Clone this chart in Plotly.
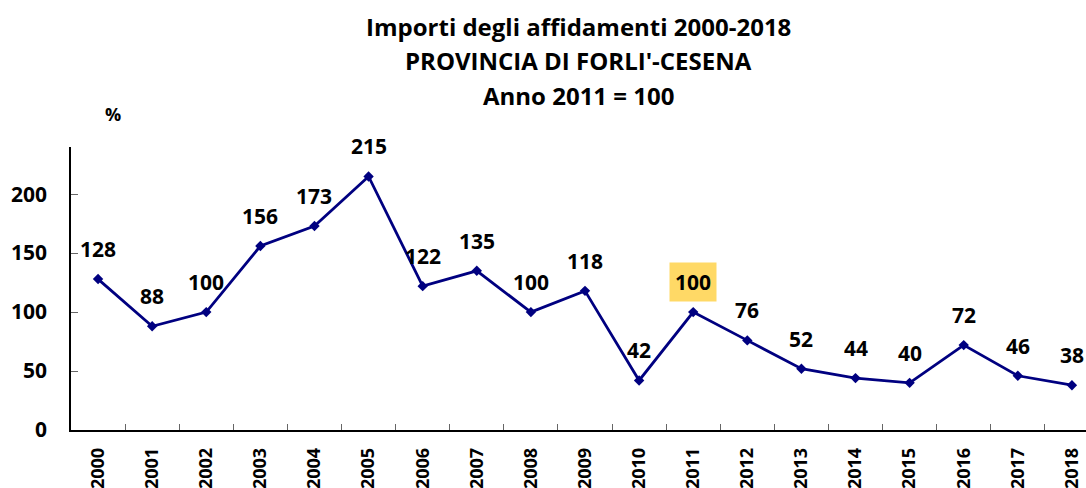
import plotly.graph_objects as go

years = [str(y) for y in range(2000, 2019)]
values = [128, 88, 100, 156, 173, 215, 122, 135, 100, 118, 42, 100, 76, 52, 44, 40, 72, 46, 38]
base_year = "2011"

title_lines = [
    "Importi degli affidamenti 2000-2018",
    "PROVINCIA DI FORLI'-CESENA",
    "Anno 2011 = 100",
]

FONT = "Open Sans"
NAVY = "#000080"

fig = go.Figure(
    go.Scatter(
        x=years,
        y=values,
        mode="lines+markers",
        line=dict(color=NAVY, width=2.8),
        marker=dict(symbol="diamond", size=8, color=NAVY),
        hoverinfo="x+y",
    )
)

# value labels above each point (x given as category index); base year highlighted
for i, (yr, v) in enumerate(zip(years, values)):
    hl = yr == base_year
    fig.add_annotation(
        x=i, y=v, text=f"<b>{v}</b>", showarrow=False,
        xanchor="center", yanchor="middle", yshift=30,
        font=dict(family=FONT, size=21, color="black"),
        bgcolor="#FFD966" if hl else "rgba(0,0,0,0)",
        borderpad=5 if hl else 0,
    )

for i, line in enumerate(title_lines):
    fig.add_annotation(
        xref="paper", yref="paper", x=0.5, y=1,
        yshift=121 - i * 34.5, xanchor="center", yanchor="middle",
        text=f"<b>{line}</b>", showarrow=False,
        font=dict(family=FONT, size=24, color="black"),
    )

fig.add_annotation(
    xref="paper", yref="paper", x=0.0414, y=1, yshift=33,
    xanchor="center", yanchor="middle",
    text="<b>%</b>", showarrow=False,
    font=dict(family=FONT, size=18, color="black"),
)

fig.update_layout(
    width=1086, height=488,
    margin=dict(l=71, r=0, t=147, b=58),
    paper_bgcolor="white", plot_bgcolor="white",
    showlegend=False,
)
fig.update_xaxes(
    type="category", range=[-0.5, 18.26],
    showline=True, linecolor="black", linewidth=1.5,
    ticks="inside", ticklen=6, tickcolor="#666", tickson="boundaries",
    tickangle=-90, showgrid=False, ticklabelstandoff=9,
    tickfont=dict(family=FONT, size=18, color="black", weight="bold"),
)
fig.update_yaxes(
    range=[0, 240], tickvals=[0, 50, 100, 150, 200],
    showline=True, linecolor="black", linewidth=1.5,
    ticks="inside", ticklen=7, tickcolor="#666", showgrid=False,
    zeroline=False, ticklabelstandoff=18,
    tickfont=dict(family=FONT, size=21, color="black", weight="bold"),
)

fig.write_html("out.html")
